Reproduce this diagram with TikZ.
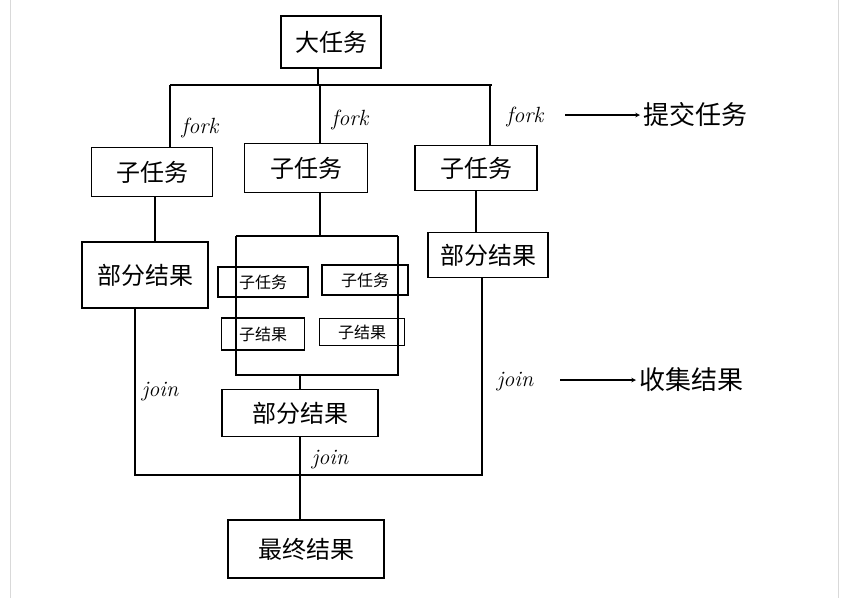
\documentclass[tikz,border=0pt]{standalone}
\usepackage{fontspec}
\newfontfamily\cjk{Noto Sans CJK SC}
\begin{document}
\begin{tikzpicture}[x=1pt,y=-1pt,line width=1.1pt,
  bx/.style={draw,inner sep=0pt,font=\cjk\fontsize{24}{26}\selectfont},
  sbx/.style={draw,inner sep=0pt,font=\cjk\fontsize{16}{18}\selectfont},
  lbl/.style={font=\itshape\fontsize{22}{24}\selectfont},
  cl/.style={font=\cjk\fontsize{26}{28}\selectfont},
  arr/.style={-stealth,line width=1.1pt}]
\useasboundingbox[fill=white] (0,0) rectangle (844,598);
\draw[gray!30,line width=1pt] (10,0)--(10,598) (838,0)--(838,598);
\node[bx,minimum width=100pt,minimum height=52pt] (big) at (331,42) {大任务};
\node[bx,minimum width=121pt,minimum height=49pt] (s1) at (152,172) {子任务};
\node[bx,minimum width=123pt,minimum height=49pt] (s2) at (306,168) {子任务};
\node[bx,minimum width=122pt,minimum height=45pt] (s3) at (476,168) {子任务};
\node[bx,minimum width=126pt,minimum height=66pt] (p1) at (145,275) {部分结果};
\node[bx,minimum width=120pt,minimum height=45pt] (p3) at (488,255) {部分结果};
\node[sbx,minimum width=90pt,minimum height=30pt] (a1) at (263,282) {子任务};
\node[sbx,minimum width=86pt,minimum height=30pt] (a2) at (365,280) {子任务};
\node[sbx,minimum width=83pt,minimum height=32pt] (b1) at (263,334) {子结果};
\node[sbx,minimum width=85pt,minimum height=27pt] (b2) at (362,332) {子结果};
\node[bx,minimum width=156pt,minimum height=47pt] (p2) at (300,413) {部分结果};
\node[bx,minimum width=156pt,minimum height=58pt] (fin) at (306,549) {最终结果};
% fork tree
\coordinate (t0) at (318,85);
\draw (big.south -| t0) -- (t0);
\draw (170,85) -- (492,85);
\draw (170,85) -- (170,85 |- s1.north);
\draw (320,85) -- (320,85 |- s2.north);
\draw (490,85) -- (490,85 |- s3.north);
\node[lbl] (f1) at (200,128) {fork};
\node[lbl] (f2) at (350,120) {fork};
\node[lbl] (f3) at (525,117) {fork};
\node[cl,anchor=west] (submit) at (640,115) {提交任务};
\draw[arr] (565,115) -- (submit.west);
% branches
\draw (155,197) -- (155,242);
\draw (476,190) -- (476,232);
\draw (320,192) -- (320,236);
\draw (236,236) -- (398,236);
\draw (236,236) -- (236,375) -- (398,375) -- (398,236);
\draw (300,375) -- (300,375 |- p2.north);
% outer join frame
\draw (135,308) -- (135,475) -- (482,475) -- (482,277);
\draw (300,437) -- (300,437 |- fin.north);
\node[lbl] (j1) at (160,392) {join};
\node[lbl] (j2) at (330,460) {join};
\node[lbl] (j3) at (515,382) {join};
\node[cl,anchor=west] (collect) at (636,380) {收集结果};
\draw[arr] (560,380) -- (collect.west);
\end{tikzpicture}
\end{document}
